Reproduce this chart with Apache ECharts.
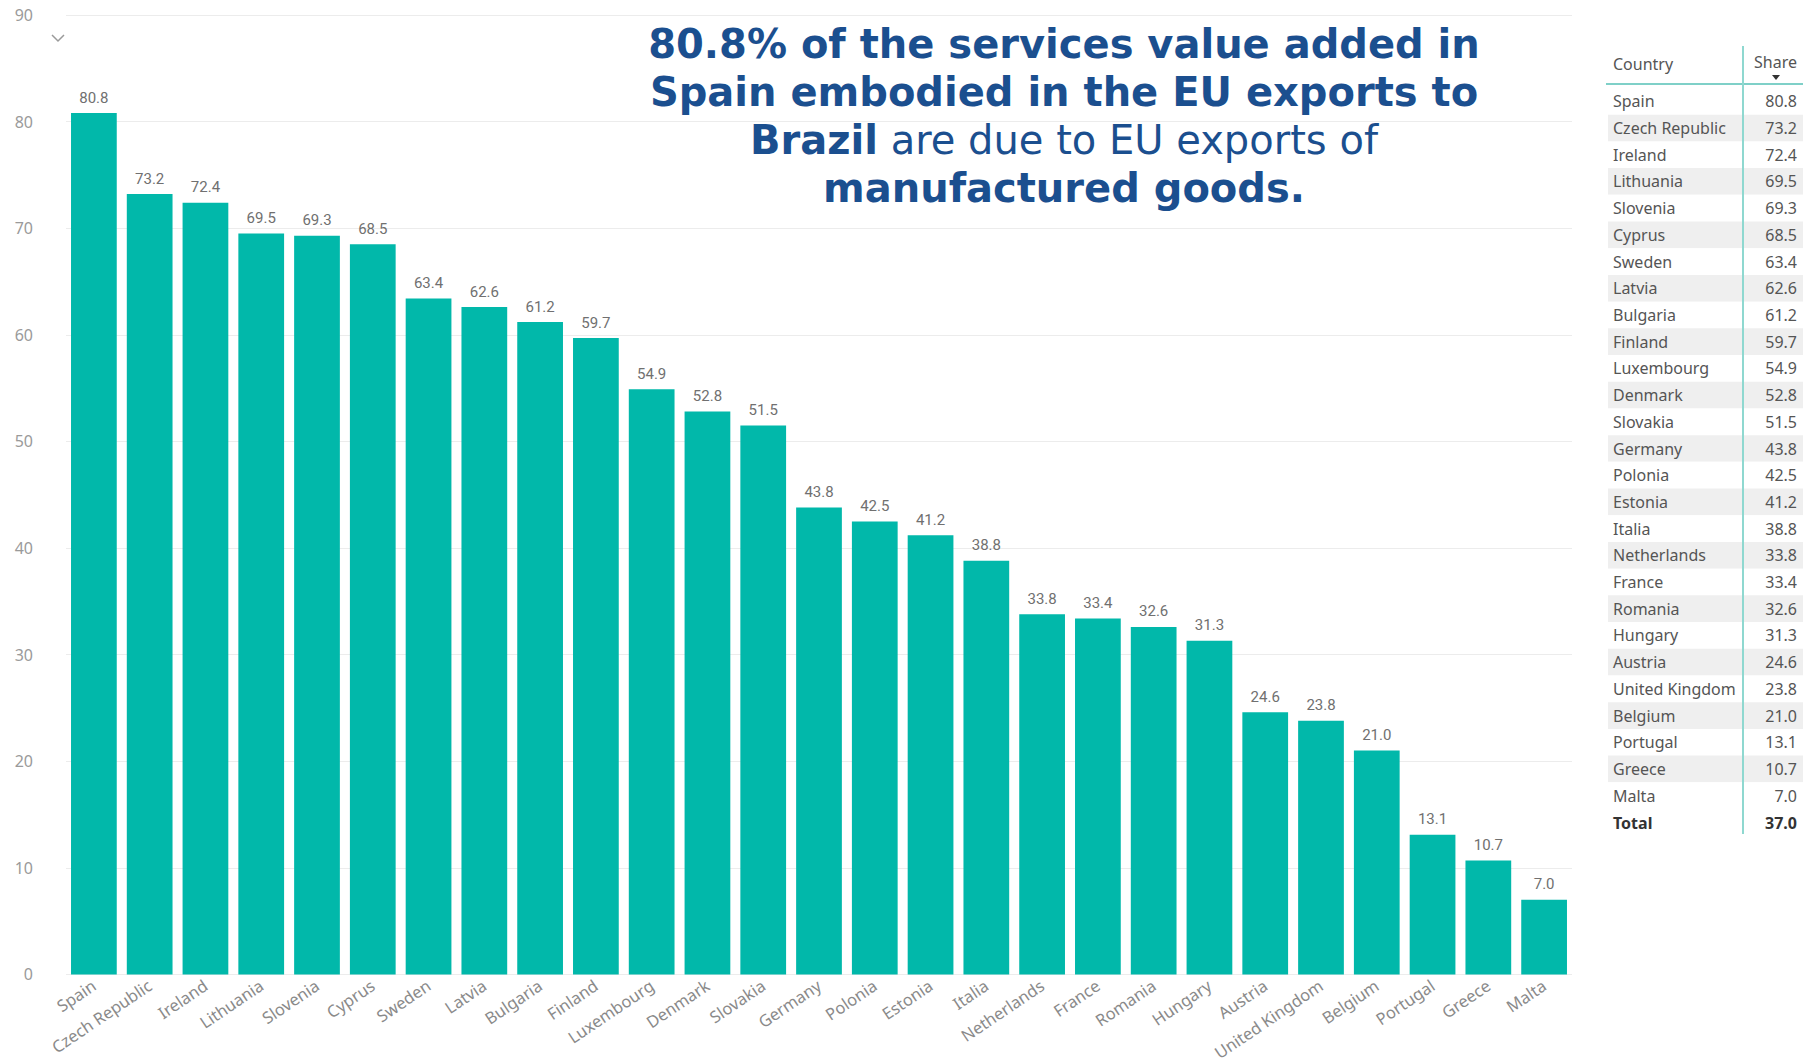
<!DOCTYPE html>
<html>
<head>
<meta charset="utf-8">
<script src="https://cdn.jsdelivr.net/npm/echarts@6/dist/echarts.min.js"></script>
<style>
html,body{margin:0;padding:0;background:#fff;}
#chart{width:1810px;height:1063px;}
</style>
</head>
<body>
<div id="chart"></div>
<script>
const countries = ['Spain','Czech Republic','Ireland','Lithuania','Slovenia','Cyprus','Sweden','Latvia','Bulgaria','Finland','Luxembourg','Denmark','Slovakia','Germany','Polonia','Estonia','Italia','Netherlands','France','Romania','Hungary','Austria','United Kingdom','Belgium','Portugal','Greece','Malta'];
const shares = [80.8,73.2,72.4,69.5,69.3,68.5,63.4,62.6,61.2,59.7,54.9,52.8,51.5,43.8,42.5,41.2,38.8,33.8,33.4,32.6,31.3,24.6,23.8,21.0,13.1,10.7,7.0];
const totalShare = 37.0;
const yTicks = [0,10,20,30,40,50,60,70,80,90];
const tableHeaders = ['Country','Share'];
const titleLines = [
  '{b|80.8% of the services value added in}',
  '{b|Spain embodied in the EU exports to}',
  '{b|Brazil}{r| are due to EU exports of}',
  '{b|manufactured goods.}'
];

const teal = '#01B8AA';
const chart = echarts.init(document.getElementById('chart'), null, {renderer:'svg'});

const option = {
  backgroundColor:'#ffffff',
  animation:false,
  grid:[
    {left:66, right:238, top:15, bottom:86, containLabel:false},
    {left:1608, right:7, top:88, bottom:254, containLabel:false}
  ],
  xAxis:[
    {type:'category', gridIndex:0, data:countries,
     axisLine:{show:false}, axisTick:{show:false},
     axisLabel:{interval:0, rotate:34, margin:9, color:'#8a8a8a', fontSize:16.5, fontFamily:'Noto Sans'}},
    {type:'value', gridIndex:1, show:false, min:0, max:1}
  ],
  yAxis:[
    {type:'value', gridIndex:0, min:yTicks[0], max:yTicks[yTicks.length-1], interval:10,
     axisLine:{show:false}, axisTick:{show:false},
     axisLabel:{color:'#9a9a9a', fontSize:16, margin:33, fontFamily:'Noto Sans'},
     splitLine:{lineStyle:{color:'#ececec', width:1}}},
    {type:'category', gridIndex:1, data:countries, inverse:true, position:'left',
     axisLine:{show:false}, axisTick:{show:false},
     axisLabel:{inside:true, margin:5, color:'#555', fontSize:16, fontFamily:'Noto Sans', align:'left'},
     splitLine:{show:false},
     splitArea:{show:true, areaStyle:{color:['#ffffff','#efefef']}}},
    {type:'category', gridIndex:1, data:shares.map(v=>v.toFixed(1)), inverse:true, position:'right',
     axisLine:{show:false}, axisTick:{show:false},
     axisLabel:{inside:true, margin:6, color:'#555', fontSize:16, fontFamily:'Noto Sans', align:'right'},
     splitLine:{show:false}, splitArea:{show:false}}
  ],
  series:[
    {type:'bar', xAxisIndex:0, yAxisIndex:0, data:shares, barCategoryGap:'18%',
     itemStyle:{color:teal},
     label:{show:true, position:'top', distance:8, color:'#707070', fontSize:15, fontFamily:'Roboto',
            formatter:p=>p.value.toFixed(1)}}
  ],
  graphic:[
    {type:'text', x:1064, y:20, style:{
      text:titleLines.join('\n'), align:'center', verticalAlign:'top',
      rich:{
        b:{fontFamily:'DejaVu Sans', fontWeight:'bold', fontSize:40, lineHeight:48, fill:'#1B4F8F'},
        r:{fontFamily:'DejaVu Sans', fontWeight:'normal', fontSize:40, lineHeight:48, fill:'#1B4F8F'}
      }}},
    {type:'polyline', shape:{points:[[52,35],[58,41],[64,35]]}, style:{stroke:'#9a9a9a', lineWidth:1.5, fill:null}},
    {type:'text', x:1613, y:64, style:{text:tableHeaders[0], align:'left', verticalAlign:'middle', fill:'#555', fontSize:16, fontFamily:'Noto Sans'}},
    {type:'text', x:1797, y:62, style:{text:tableHeaders[1], align:'right', verticalAlign:'middle', fill:'#555', fontSize:16, fontFamily:'Noto Sans'}},
    {type:'polygon', shape:{points:[[1772,75],[1780,75],[1776,80]]}, style:{fill:'#333'}},
    {type:'line', shape:{x1:1606, y1:84, x2:1803, y2:84}, style:{stroke:'#7fd0c8', lineWidth:2}},
    {type:'line', shape:{x1:1743, y1:46, x2:1743, y2:834}, style:{stroke:'#8fd8d0', lineWidth:2}, z:10},
    {type:'text', x:1613, y:823, style:{text:'Total', align:'left', verticalAlign:'middle', fill:'#333', fontSize:16, fontWeight:'bold', fontFamily:'Noto Sans'}},
    {type:'text', x:1797, y:823, style:{text:totalShare.toFixed(1), align:'right', verticalAlign:'middle', fill:'#333', fontSize:16, fontWeight:'bold', fontFamily:'Noto Sans'}}
  ]
};
chart.setOption(option);
</script>
</body>
</html>
